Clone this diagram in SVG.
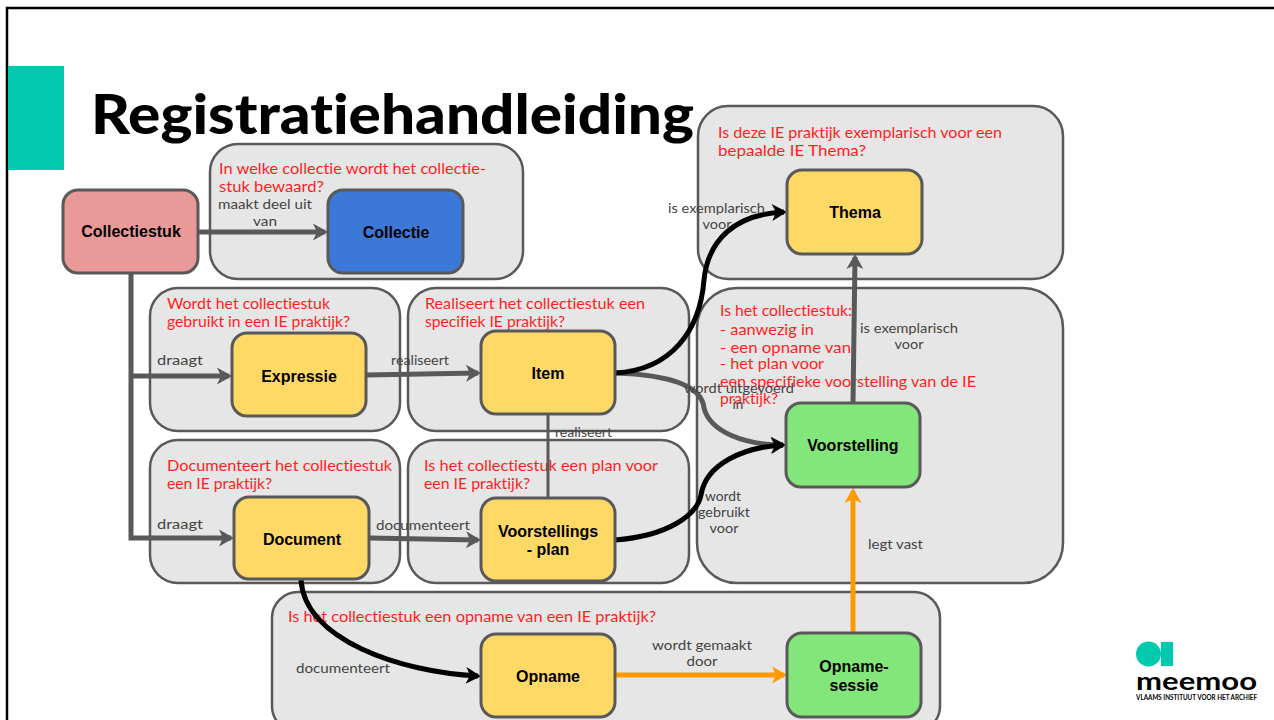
<svg xmlns="http://www.w3.org/2000/svg" width="1274" height="720" viewBox="0 0 1274 720">
<style>
text{font-family:"Lato","Open Sans","Liberation Sans",sans-serif;font-variant-ligatures:none}
.grp{fill:#e6e6e6;stroke:#595959;stroke-width:2.5}
.node{stroke:#595959;stroke-width:3}
.yellow{fill:#ffd966}.green{fill:#82e67a}.pink{fill:#ea9999}.blue{fill:#3c78d8}
.q{fill:#ff1f1f;font-size:16px;font-weight:400}
.lab{fill:#444;font-size:13.500px;font-weight:400}
.mid{text-anchor:middle}
.nl{font-family:"Liberation Sans",Arial,sans-serif;font-weight:700;font-size:16px;fill:#000;text-anchor:middle}
.c{fill:none;stroke-linecap:butt}
.g{stroke:#595959;stroke-width:5}
.k{stroke:#000;stroke-width:5}
.o{stroke:#ff9900;stroke-width:5}
</style>
<defs>
<marker id="ag" markerUnits="userSpaceOnUse" viewBox="0 0 16 18" markerWidth="16" markerHeight="18" refX="13" refY="9" orient="auto"><path d="M16,9L1,0.500L5,9L1,17.500Z" fill="#595959"/></marker>
<marker id="ak" markerUnits="userSpaceOnUse" viewBox="0 0 16 18" markerWidth="16" markerHeight="18" refX="13" refY="9" orient="auto"><path d="M16,9L1,0.500L5,9L1,17.500Z" fill="#000"/></marker>
<marker id="ao" markerUnits="userSpaceOnUse" viewBox="0 0 16 18" markerWidth="16" markerHeight="18" refX="13" refY="9" orient="auto"><path d="M16,9L1,0.500L5,9L1,17.500Z" fill="#ff9900"/></marker>
</defs>
<rect width="1274" height="720" fill="#fff"/>
<path d="M7,720V8H1274" fill="none" stroke="#000" stroke-width="2.5"/>
<rect x="8" y="66" width="56" height="104" fill="#00c9ad"/>
<text x="91" y="134" font-size="56" font-weight="900" textLength="603" lengthAdjust="spacingAndGlyphs" fill="#000">Registratiehandleiding</text>

<g id="groups">
<g id="g-collectie"><rect class="grp" x="210" y="144" width="313" height="135" rx="28"/>
<text class="q" x="219" y="174" textLength="267" lengthAdjust="spacingAndGlyphs">In welke collectie wordt het collectie-</text>
<text class="q" x="219" y="192" textLength="105" lengthAdjust="spacingAndGlyphs">stuk bewaard?</text></g>
<g id="g-expressie"><rect class="grp" x="150" y="288" width="250" height="143" rx="28"/>
<text class="q" x="167" y="309" textLength="163" lengthAdjust="spacingAndGlyphs">Wordt het collectiestuk</text>
<text class="q" x="167" y="327" textLength="183" lengthAdjust="spacingAndGlyphs">gebruikt in een IE praktijk?</text></g>
<g id="g-item"><rect class="grp" x="408" y="288" width="281" height="143" rx="28"/>
<text class="q" x="425" y="309" textLength="220" lengthAdjust="spacingAndGlyphs">Realiseert het collectiestuk een</text>
<text class="q" x="425" y="327" textLength="140" lengthAdjust="spacingAndGlyphs">specifiek IE praktijk?</text></g>
<g id="g-document"><rect class="grp" x="150" y="440" width="250" height="143" rx="28"/>
<text class="q" x="167" y="471" textLength="225" lengthAdjust="spacingAndGlyphs">Documenteert het collectiestuk</text>
<text class="q" x="167" y="489" textLength="105" lengthAdjust="spacingAndGlyphs">een IE praktijk?</text></g>
<g id="g-plan"><rect class="grp" x="408" y="440" width="281" height="143" rx="28"/>
<text class="q" x="424" y="471" textLength="234" lengthAdjust="spacingAndGlyphs">Is het collectiestuk een plan voor</text>
<text class="q" x="424" y="489" textLength="106" lengthAdjust="spacingAndGlyphs">een IE praktijk?</text></g>
<g id="g-thema"><rect class="grp" x="698" y="106" width="365" height="173" rx="30"/>
<text class="q" x="718" y="138" textLength="284" lengthAdjust="spacingAndGlyphs">Is deze IE praktijk exemplarisch voor een</text>
<text class="q" x="718" y="156" textLength="148" lengthAdjust="spacingAndGlyphs">bepaalde IE Thema?</text></g>
<g id="g-voorstelling"><rect class="grp" x="697" y="288" width="366" height="295" rx="40"/>
<text class="q" x="720" y="316" textLength="132" lengthAdjust="spacingAndGlyphs">Is het collectiestuk:</text>
<text class="q" x="720" y="335" textLength="94" lengthAdjust="spacingAndGlyphs">- aanwezig in</text>
<text class="q" x="720" y="353" textLength="131" lengthAdjust="spacingAndGlyphs">- een opname van</text>
<text class="q" x="720" y="369" textLength="104" lengthAdjust="spacingAndGlyphs">- het plan voor</text>
<text class="q" x="720" y="387" textLength="256" lengthAdjust="spacingAndGlyphs">een specifieke voorstelling van de IE</text>
<text class="q" x="720" y="404" textLength="58" lengthAdjust="spacingAndGlyphs">praktijk?</text></g>
<g id="g-opname"><rect class="grp" x="272" y="592" width="668" height="140" rx="26"/>
<text class="q" x="288" y="622" textLength="368" lengthAdjust="spacingAndGlyphs">Is het collectiestuk een opname van een IE praktijk?</text></g>
</g>

<g id="connectors">
<path class="c g" d="M198,232H325" marker-end="url(#ag)"/>
<path class="c g" d="M131,273V538H231" marker-end="url(#ag)"/>
<path class="c g" d="M131,376H229" marker-end="url(#ag)"/>
<path class="c g" d="M366,375L478,373" marker-end="url(#ag)"/>
<path class="c g" d="M369,538L478,540" marker-end="url(#ag)"/>
<path class="c" d="M548,414V498" stroke="#595959" stroke-width="3"/>
<path class="c g" d="M615,373C675,375 702,388 704,408C710,432 745,445 783,445" marker-end="url(#ag)"/>
<path class="c k" d="M615,373C672,370 700,330 704,280C708,240 735,214 784,212" marker-end="url(#ak)"/>
<path class="c k" d="M615,540C668,536 697,515 701,495C706,463 745,447 783,445" marker-end="url(#ak)"/>
<path class="c k" d="M301,580C305,640 400,672 478,676" marker-end="url(#ak)"/>
<path class="c g" d="M853,403L855,257" marker-end="url(#ag)"/>
<path class="c o" d="M615,675H784" marker-end="url(#ao)"/>
<path class="c o" d="M853,633V491" marker-end="url(#ao)"/>
</g>

<g id="n-collectiestuk"><rect class="node pink" x="63" y="190" width="135" height="83" rx="15"/><text class="nl" x="131" y="237">Collectiestuk</text></g>
<g id="n-collectie"><rect class="node blue" x="328" y="190" width="135" height="83" rx="15"/><text class="nl" x="396" y="238">Collectie</text></g>
<g id="n-expressie"><rect class="node yellow" x="232" y="333" width="134" height="83" rx="15"/><text class="nl" x="299" y="382">Expressie</text></g>
<g id="n-item"><rect class="node yellow" x="481" y="331" width="134" height="83" rx="15"/><text class="nl" x="548" y="379">Item</text></g>
<g id="n-document"><rect class="node yellow" x="234" y="497" width="135" height="82" rx="15"/><text class="nl" x="302" y="545">Document</text></g>
<g id="n-plan"><rect class="node yellow" x="481" y="498" width="134" height="83" rx="15"/><text class="nl" x="548" y="537">Voorstellings</text><text class="nl" x="548" y="555">- plan</text></g>
<g id="n-thema"><rect class="node yellow" x="787" y="170" width="135" height="84" rx="15"/><text class="nl" x="855" y="218">Thema</text></g>
<g id="n-voorstelling"><rect class="node green" x="786" y="403" width="134" height="84" rx="15"/><text class="nl" x="853" y="451">Voorstelling</text></g>
<g id="n-opname"><rect class="node yellow" x="481" y="634" width="134" height="83" rx="15"/><text class="nl" x="548" y="682">Opname</text></g>
<g id="n-sessie"><rect class="node green" x="787" y="633" width="134" height="84" rx="15"/><text class="nl" x="854" y="672">Opname-</text><text class="nl" x="854" y="691">sessie</text></g>

<g id="labels">
<text class="lab" x="218" y="209" textLength="94" lengthAdjust="spacingAndGlyphs">maakt deel uit</text>
<text class="lab mid" x="265" y="226" textLength="24" lengthAdjust="spacingAndGlyphs">van</text>
<text class="lab" x="157" y="365" textLength="46" lengthAdjust="spacingAndGlyphs">draagt</text>
<text class="lab" x="157" y="529" textLength="46" lengthAdjust="spacingAndGlyphs">draagt</text>
<text class="lab" x="391" y="365" textLength="58" lengthAdjust="spacingAndGlyphs">realiseert</text>
<text class="lab" x="555" y="437" textLength="57" lengthAdjust="spacingAndGlyphs">realiseert</text>
<text class="lab" x="376" y="530" textLength="94" lengthAdjust="spacingAndGlyphs">documenteert</text>
<text class="lab" x="668" y="213" textLength="97" lengthAdjust="spacingAndGlyphs">is exemplarisch</text>
<text class="lab mid" x="717" y="229" textLength="29" lengthAdjust="spacingAndGlyphs">voor</text>
<text class="lab" x="860" y="333" textLength="98" lengthAdjust="spacingAndGlyphs">is exemplarisch</text>
<text class="lab mid" x="909" y="349" textLength="29" lengthAdjust="spacingAndGlyphs">voor</text>
<text class="lab" x="684" y="393" textLength="110" lengthAdjust="spacingAndGlyphs">wordt uitgevoerd</text>
<text class="lab mid" x="738" y="409">in</text>
<text class="lab mid" x="723" y="501" textLength="36" lengthAdjust="spacingAndGlyphs">wordt</text>
<text class="lab mid" x="724" y="517" textLength="52" lengthAdjust="spacingAndGlyphs">gebruikt</text>
<text class="lab mid" x="724" y="533" textLength="29" lengthAdjust="spacingAndGlyphs">voor</text>
<text class="lab" x="868" y="549" textLength="55" lengthAdjust="spacingAndGlyphs">legt vast</text>
<text class="lab" x="296" y="673" textLength="94" lengthAdjust="spacingAndGlyphs">documenteert</text>
<text class="lab" x="652" y="650" textLength="100" lengthAdjust="spacingAndGlyphs">wordt gemaakt</text>
<text class="lab mid" x="702" y="666" textLength="31" lengthAdjust="spacingAndGlyphs">door</text>
</g>

<g id="logo">
<circle cx="1148.500" cy="654" r="12.500" fill="#00c9ad"/>
<rect x="1161" y="642" width="12" height="24" fill="#00c9ad"/>
<text x="1136" y="690" font-size="25" font-weight="700" fill="#000" textLength="121" lengthAdjust="spacingAndGlyphs">meemoo</text>
<text x="1136" y="700" font-size="6.500" font-weight="700" fill="#000" textLength="121" lengthAdjust="spacingAndGlyphs">VLAAMS INSTITUUT VOOR HET ARCHIEF</text>
</g>
</svg>
